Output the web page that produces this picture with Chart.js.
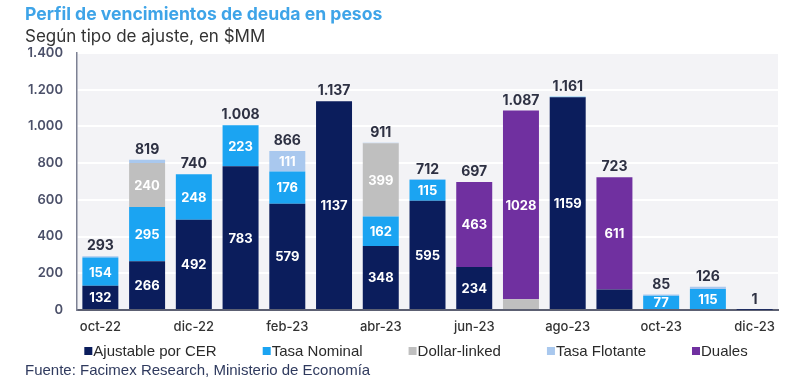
<!DOCTYPE html>
<html>
<head>
<meta charset="utf-8">
<script src="https://cdn.jsdelivr.net/npm/chart.js@4.4.1/dist/chart.umd.min.js"></script>
<style>
  html, body { margin: 0; padding: 0; background: #ffffff; }
  #wrap { position: relative; width: 800px; height: 389px; overflow: hidden; }
  #c { position: absolute; left: 0; top: 0; }
  .title { position: absolute; left: 25px; top: 3px; font-family: Inter, "Open Sans", sans-serif; font-weight: 700; font-size: 17.6px; color: #3ea4e8; white-space: nowrap; }
  .subtitle { position: absolute; left: 25px; top: 26px; font-family: Inter, "Open Sans", sans-serif; font-weight: 400; font-size: 17px; color: #333333; white-space: nowrap; }
  .source { position: absolute; left: 25px; top: 361px; font-family: "Liberation Sans", Arial, sans-serif; font-size: 15px; color: #2f3a5e; white-space: nowrap; }
</style>
</head>
<body>
<div id="wrap">
  <canvas id="c" width="800" height="389"></canvas>
  <div class="title">Perfil de vencimientos de deuda en pesos</div>
  <div class="subtitle">Según tipo de ajuste, en $MM</div>
  <div class="source">Fuente: Facimex Research, Ministerio de Economía</div>
</div>
<script>
// ---------- DATA ----------
const months = ['oct-22','nov-22','dic-22','ene-23','feb-23','mar-23','abr-23','may-23','jun-23','jul-23','ago-23','sep-23','oct-23','nov-23','dic-23'];
const ajustableCER = [132, 266, 492, 783, 579, 1137, 348, 595, 234, 5, 1159, 112, 0, 0, 1];
const tasaNominal  = [154, 295, 248, 223, 176, 0, 162, 115, 0, 0, 2, 0, 77, 115, 0];
const dollarLinked = [0, 240, 0, 0, 0, 0, 399, 0, 0, 54, 0, 0, 0, 0, 0];
const tasaFlotante = [7, 18, 0, 2, 111, 0, 2, 2, 0, 0, 0, 0, 8, 11, 0];
const duales       = [0, 0, 0, 0, 0, 0, 0, 0, 463, 1028, 0, 611, 0, 0, 0];
const seriesNames  = ['Ajustable por CER', 'Tasa Nominal', 'Dollar-linked', 'Tasa Flotante', 'Duales'];
const yTickValues  = [0, 200, 400, 600, 800, 1000, 1200, 1400];
const xLabelShown  = ['oct-22','dic-22','feb-23','abr-23','jun-23','ago-23','oct-23','dic-23'];
// segment labels that the original leaves unlabelled
const hiddenSegmentLabels = [['Ajustable por CER', 'sep-23']];

// ---------- STYLE ----------
const seriesColors = ['#0b1d5c', '#1ba4f2', '#bfbfbf', '#a9c8ee', '#7030a0'];
const minLabelValue = 70;

function fmtThousands(n) {
  return String(n).replace(/\B(?=(\d{3})+(?!\d))/g, '.');
}

const seriesValues = [ajustableCER, tasaNominal, dollarLinked, tasaFlotante, duales];
const datasets = seriesNames.map((name, i) => ({
  label: name,
  data: seriesValues[i],
  backgroundColor: seriesColors[i],
  borderWidth: 0,
  categoryPercentage: 1.0,
  barPercentage: 0.77
}));

const bgPlugin = {
  id: 'plotBg',
  beforeDraw(chart) {
    const { ctx, chartArea: a } = chart;
    ctx.save();
    ctx.fillStyle = '#f3f3f6';
    ctx.fillRect(a.left, a.top, a.right - a.left, a.bottom - a.top);
    ctx.restore();
  }
};

const labelPlugin = {
  id: 'valueLabels',
  afterDatasetsDraw(chart) {
    const ctx = chart.ctx;
    const yScale = chart.scales.y;
    ctx.save();
    ctx.textAlign = 'center';
    ctx.textBaseline = 'middle';
    // segment labels
    ctx.font = '700 13px Inter, "Open Sans", sans-serif';
    ctx.fillStyle = '#ffffff';
    chart.data.datasets.forEach((ds, di) => {
      const meta = chart.getDatasetMeta(di);
      meta.data.forEach((el, i) => {
        const v = ds.data[i];
        if (!v || v < minLabelValue) return;
        if (hiddenSegmentLabels.some(h => h[0] === ds.label && h[1] === chart.data.labels[i])) return;
        ctx.fillText(String(v), el.x, (el.y + el.base) / 2 + 1);
      });
    });
    // totals
    ctx.font = '700 14px Inter, "Open Sans", sans-serif';
    ctx.fillStyle = '#2e3143';
    const meta0 = chart.getDatasetMeta(0);
    chart.data.labels.forEach((m, i) => {
      const total = chart.data.datasets.reduce((s, ds) => s + (ds.data[i] || 0), 0);
      const x = meta0.data[i].x;
      ctx.fillText(fmtThousands(total), x, yScale.getPixelForValue(total) - 10);
    });
    ctx.restore();
  }
};

const legendPlugin = {
  id: 'customLegend',
  afterDraw(chart) {
    const ctx = chart.ctx;
    ctx.save();
    ctx.font = '15px "Liberation Sans", Arial, sans-serif';
    ctx.textBaseline = 'middle';
    ctx.textAlign = 'left';
    const box = 8, boxGap = 1, itemGap = 46;
    const items = chart.data.datasets.map(ds => ({ label: ds.label, color: ds.backgroundColor, w: ctx.measureText(ds.label).width }));
    const total = items.reduce((s, it) => s + box + boxGap + it.w, 0) + itemGap * (items.length - 1);
    let x = 416 - total / 2;
    const y = 352;
    items.forEach(it => {
      ctx.fillStyle = it.color;
      ctx.fillRect(x, y - box / 2 - 1, box, box);
      ctx.fillStyle = '#2a2a2a';
      ctx.fillText(it.label, x + box + boxGap, y);
      x += box + boxGap + it.w + itemGap;
    });
    ctx.restore();
  }
};

new Chart(document.getElementById('c'), {
  type: 'bar',
  data: { labels: months, datasets: datasets },
  options: {
    responsive: false,
    animation: false,
    devicePixelRatio: 1,
    layout: { padding: { top: 53, right: 22, bottom: 55, left: 0 } },
    plugins: { legend: { display: false }, tooltip: { enabled: false }, title: { display: false } },
    scales: {
      x: {
        stacked: true,
        grid: { display: false, drawTicks: false },
        border: { display: true, color: '#5c6072', width: 2 },
        ticks: {
          autoSkip: false, maxRotation: 0, padding: 9,
          color: '#333333',
          font: { family: 'Inter, "Open Sans", sans-serif', size: 13, weight: '500' },
          callback: function(v, i) { const l = this.getLabelForValue(v); return xLabelShown.includes(l) ? l : ''; }
        },
        afterFit(scale) { scale.height = 24; }
      },
      y: {
        stacked: true,
        min: 0, max: 1400,
        afterBuildTicks(scale) { scale.ticks = yTickValues.map(v => ({ value: v })); },
        grid: { color: '#ffffff', lineWidth: 2, drawTicks: false },
        border: { display: true, color: '#7d8193', width: 1.5 },
        ticks: {
          padding: 14,
          color: '#4b5069',
          font: { family: 'Inter, "Open Sans", sans-serif', size: 13, weight: '600' },
          callback: v => fmtThousands(v)
        },
        afterFit(scale) { scale.width = 77; }
      }
    }
  },
  plugins: [bgPlugin, labelPlugin, legendPlugin]
});
</script>
</body>
</html>
